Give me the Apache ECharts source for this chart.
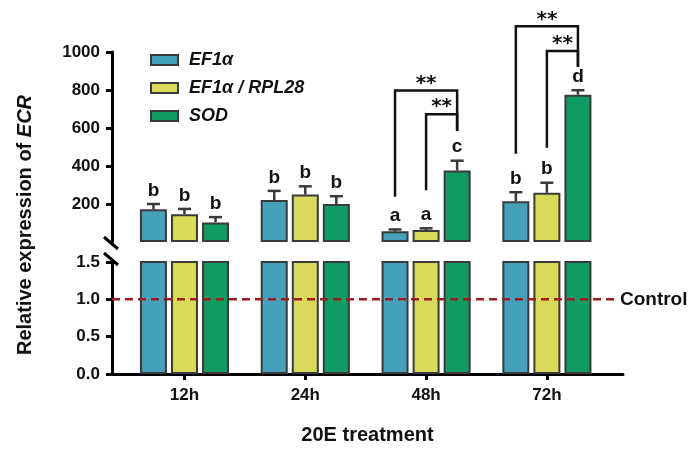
<!DOCTYPE html>
<html>
<head>
<meta charset="utf-8">
<script src="https://cdn.jsdelivr.net/npm/echarts@6/dist/echarts.min.js"></script>
<style>
  html, body { margin: 0; background: #fff; }
  #chart { width: 700px; height: 449px; }
</style>
</head>
<body>
<div id="chart"></div>
<script>
// values
const categories = ["12h", "24h", "48h", "72h"];
const geneNames = ["EF1α", "EF1α / RPL28", "SOD"];
const ef1Mean = [172, 221, 56, 214];
const ef1Sd = [28, 48, 10, 48];
const rplMean = [146, 250, 63, 259];
const rplSd = [28, 43, 9, 53];
const sodMean = [103, 200, 376, 775];
const sodSd = [28, 41, 52, 24];
const ef1Letters = ["b", "b", "a", "b"];
const rplLetters = ["b", "b", "a", "b"];
const sodLetters = ["b", "b", "c", "d"];
const lowerTicks = [0, 0.5, 1.0, 1.5];
const upperTicks = [200, 400, 600, 800, 1000];
const controlLevel = 1;
// [group, leftBar, rightBar, leftFoot, top, rightFoot, text]
const brackets = [
  [2, 0, 2, 238, 797, 584, "**"],
  [2, 1, 2, 273, 673, 584, "**"],
  [3, 0, 2, 465, 1135, 922, "**"],
  [3, 1, 2, 496, 1005, 922, "**"],
];

const means = [ef1Mean, rplMean, sodMean];
const sds = [ef1Sd, rplSd, sodSd];
const letters = [ef1Letters, rplLetters, sodLetters];
const colors = ["#45a0b9", "#d9d95b", "#0f9b62"];
const edge = "#3a3a3a";
const FONT = '"Liberation Sans", Arial, sans-serif';
const BAR_W = 27;
const BAR_STEP = BAR_W * 1.15;

const chart = echarts.init(document.getElementById("chart"));

const xBase = {
  type: "value",
  min: -0.6,
  max: 3.63,
  splitLine: { show: false },
};

const axisLine = { onZero: false, lineStyle: { color: "#000", width: 3 } };
const axisTick = { length: 6, lineStyle: { color: "#000", width: 3 } };
const tickFont = { color: "#111", fontSize: 17, fontWeight: "bold", fontFamily: FONT };

const series = [];
geneNames.forEach((name, g) => {
  const pts = means[g].map((v, i) => [i, v]);
  const common = {
    name,
    type: "bar",
    barWidth: BAR_W,
    barGap: "15%",
    itemStyle: { color: colors[g], borderColor: edge, borderWidth: 2 },
    emphasis: { disabled: true },
    data: pts,
  };
  series.push({ ...common, xAxisIndex: 0, yAxisIndex: 0, clip: true });
  series.push({ ...common, xAxisIndex: 1, yAxisIndex: 1 });
});

// error bars + group letters
const errData = [];
geneNames.forEach((_, g) => {
  means[g].forEach((m, i) => errData.push([i, g, m, sds[g][i]]));
});
series.push({
  type: "custom",
  xAxisIndex: 1,
  yAxisIndex: 1,
  z: 4,
  data: errData,
  renderItem(params, api) {
    const i = api.value(0), g = api.value(1), m = api.value(2), sd = api.value(3);
    const base = api.coord([i, m]);
    const top = api.coord([i, m + sd]);
    const x = base[0] + (g - 1) * BAR_STEP;
    const st = { stroke: edge, lineWidth: 2.5 };
    return {
      type: "group",
      children: [
        { type: "line", shape: { x1: x, y1: base[1], x2: x, y2: top[1] }, style: st },
        { type: "line", shape: { x1: x - 6.5, y1: top[1], x2: x + 6.5, y2: top[1] }, style: st },
        {
          type: "text", x: x, y: top[1] - 4,
          style: {
            text: letters[g][i], align: "center", verticalAlign: "bottom",
            font: "bold 19px " + FONT, fill: "#111",
          },
        },
      ],
    };
  },
});

// significance brackets
series.push({
  type: "custom",
  xAxisIndex: 1,
  yAxisIndex: 1,
  z: 4,
  clip: false,
  data: brackets.map((b) => b.slice(0, 6)),
  renderItem(params, api) {
    const grp = api.value(0);
    const lb = api.value(1), rb = api.value(2);
    const c0 = api.coord([grp, api.value(3)]);
    const cTop = api.coord([grp, api.value(4)]);
    const c1 = api.coord([grp, api.value(5)]);
    const xl = c0[0] + (lb - 1) * BAR_STEP;
    const xr = c0[0] + (rb - 1) * BAR_STEP;
    return {
      type: "group",
      children: [
        {
          type: "polyline",
          shape: { points: [[xl, c0[1]], [xl, cTop[1]], [xr, cTop[1]], [xr, c1[1]]] },
          style: { stroke: "#111", lineWidth: 2.5, fill: null },
        },
        {
          type: "text", x: (xl + xr) / 2, y: cTop[1] + 3,
          style: {
            text: brackets[params.dataIndex][6], align: "center", verticalAlign: "bottom",
            font: 'bold 20px "DejaVu Sans", sans-serif', fill: "#111",
          },
        },
      ],
    };
  },
});

// control reference line
series.push({
  name: "Control",
  type: "line",
  xAxisIndex: 0,
  yAxisIndex: 0,
  z: 5,
  symbol: "none",
  silent: true,
  data: [[-0.6, controlLevel], [3.58, controlLevel]],
  lineStyle: { color: "#9e1b1f", width: 2.5, type: [8, 5] },
  endLabel: {
    show: true,
    formatter: "Control",
    distance: 3,
    color: "#111",
    fontSize: 19,
    fontWeight: "bold",
    fontFamily: FONT,
  },
});

const option = {
  animation: false,
  backgroundColor: "#fff",
  grid: [
    { left: 112, right: 77, top: 262, height: 112 },
    { left: 112, right: 77, top: 52, height: 190 },
  ],
  legend: {
    data: geneNames,
    orient: "vertical",
    left: 145,
    top: 46,
    icon: "rect",
    itemWidth: 27,
    itemHeight: 10,
    itemGap: 10,
    selectedMode: false,
    textStyle: {
      fontSize: 18,
      fontWeight: "bold",
      fontStyle: "italic",
      fontFamily: FONT,
      color: "#111",
      padding: [0, 0, 0, 6],
    },
  },
  xAxis: [
    {
      ...xBase,
      gridIndex: 0,
      axisLine,
      axisTick: { ...axisTick, customValues: [0, 1, 2, 3] },
      axisLabel: {
        ...tickFont,
        margin: 13,
        customValues: [0, 1, 2, 3],
        formatter: (v) => categories[v],
      },
      name: "20E treatment",
      nameLocation: "middle",
      nameGap: 51,
      nameTextStyle: { color: "#111", fontSize: 20, fontWeight: "bold", fontFamily: FONT },
    },
    { ...xBase, gridIndex: 1, show: false },
  ],
  yAxis: [
    {
      type: "value",
      gridIndex: 0,
      min: 0,
      max: 1.5,
      interval: 0.5,
      splitLine: { show: false },
      axisLine: { show: true, ...axisLine },
      axisTick: { show: true, ...axisTick, customValues: lowerTicks },
      axisLabel: { ...tickFont, margin: 12, customValues: lowerTicks, formatter: (v) => v.toFixed(1) },
    },
    {
      type: "value",
      gridIndex: 1,
      min: 0,
      max: 1000,
      interval: 200,
      splitLine: { show: false },
      axisLine: { show: true, ...axisLine },
      axisTick: { show: true, ...axisTick, customValues: upperTicks },
      axisLabel: { ...tickFont, margin: 12, customValues: upperTicks, formatter: (v) => String(v) },
    },
  ],
  graphic: [
    {
      type: "text",
      rotation: Math.PI / 2,
      x: 25, y: 225,
      style: {
        text: "{a|Relative expression of }{b|ECR}",
        align: "center",
        verticalAlign: "middle",
        rich: {
          a: { fontSize: 20, fontWeight: "bold", fontFamily: FONT, fill: "#111" },
          b: { fontSize: 20, fontWeight: "bold", fontStyle: "italic", fontFamily: FONT, fill: "#111" },
        },
      },
    },
    // axis break marks
    { type: "line", shape: { x1: 104, y1: 237, x2: 118, y2: 249 }, style: { stroke: "#000", lineWidth: 3 } },
    { type: "line", shape: { x1: 104, y1: 253, x2: 118, y2: 265 }, style: { stroke: "#000", lineWidth: 3 } },
  ],
  series,
};

chart.setOption(option);
</script>
</body>
</html>
